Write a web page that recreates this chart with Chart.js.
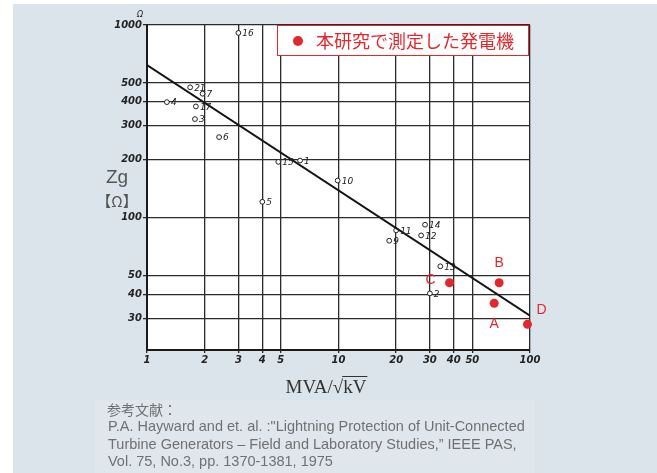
<!DOCTYPE html>
<html>
<head>
<meta charset="utf-8">
<script src="https://cdn.jsdelivr.net/npm/chart.js@4"></script>
<style>
html, body { margin: 0; padding: 0; background: #fff; }
#wrap { position: relative; width: 657px; height: 473px; overflow: hidden; }
#panel { position: absolute; left: 13px; top: 4px; right: 0; bottom: 0; background: #dbe4eb; }
canvas { position: absolute; left: 0; top: 0; }
</style>
</head>
<body>
<div id="wrap"><div id="panel"></div><canvas id="chart" width="657" height="473"></canvas></div>
<script>
// Hayward の測定点 (番号付き白丸)
var pointNames = ['16', '21', '7', '4', '17', '3', '6', '15', '1', '10', '5', '11', '9', '14', '12', '13', '2'];
var pointMva = [3, 1.68, 1.95, 1.27, 1.8, 1.78, 2.38, 4.85, 6.3, 9.9, 4.0, 20, 18.4, 28.3, 27, 34, 30];
var pointZg = [910, 475, 440, 398, 378, 325, 262, 195, 198, 156, 121, 86, 76, 92, 81, 56, 40.5];

// 本研究で測定した発電機
var ourNames = ['A', 'B', 'C', 'D'];
var ourMva = [65, 69, 38, 97];
var ourZg = [36, 46, 46, 28];

// 近似直線
var fitMva = [1, 100];
var fitZg = [620, 31];

var xTicks = [1, 2, 3, 4, 5, 10, 20, 30, 40, 50, 100];
var yTicks = [30, 40, 50, 100, 200, 300, 400, 500, 1000];

var RED = '#e3282d';
var tickFont = { family: 'DejaVu Sans', size: 10, style: 'italic', weight: 'bold' };

function toXY(xs, ys) {
    return xs.map(function (x, i) { return { x: x, y: ys[i] }; });
}

var decor = {
    id: 'decor',
    beforeDraw: function (chart) {
        var c = chart.ctx, a = chart.chartArea;
        c.save();
        c.fillStyle = 'rgba(255,255,255,0.12)';
        c.fillRect(95, 400, 440, 73);
        c.fillStyle = '#fff';
        c.fillRect(a.left, a.top, a.right - a.left, a.bottom - a.top);
        c.restore();
    },
    afterDatasetsDraw: function (chart) {
        var c = chart.ctx;
        c.save();
        // 白丸の番号
        var m0 = chart.getDatasetMeta(1);
        c.fillStyle = '#222';
        c.font = 'italic 9px "DejaVu Sans"';
        c.textBaseline = 'middle';
        c.textAlign = 'left';
        m0.data.forEach(function (el, i) {
            c.fillText(pointNames[i], el.x + 4, el.y + 1);
        });
        // A-D
        var m1 = chart.getDatasetMeta(2);
        c.fillStyle = RED;
        c.font = '14px "Liberation Sans"';
        c.textAlign = 'center';
        var place = { A: [0, 21], B: [0, -20], C: [-19, -3], D: [14, -14] };
        m1.data.forEach(function (el, i) {
            var p = place[ourNames[i]];
            c.fillText(ourNames[i], el.x + p[0], el.y + p[1]);
        });
        c.restore();
    },
    afterDraw: function (chart) {
        var c = chart.ctx;
        c.save();
        // 凡例
        c.fillStyle = '#fff';
        c.fillRect(277, 25, 251, 30);
        c.strokeStyle = RED;
        c.lineWidth = 1;
        c.strokeRect(277.5, 25.5, 251, 30);
        c.fillStyle = RED;
        c.beginPath();
        c.arc(298, 41, 5, 0, Math.PI * 2);
        c.fill();
        c.font = '18px "Noto Sans CJK JP"';
        c.textBaseline = 'middle';
        c.textAlign = 'left';
        c.fillText('本研究で測定した発電機', 316, 41);

        // 単位
        c.fillStyle = '#222';
        c.font = 'italic 8px "DejaVu Sans"';
        c.textAlign = 'center';
        c.fillText('Ω', 140, 15);

        // 軸タイトル
        c.fillStyle = '#555';
        c.font = '19px "Liberation Sans"';
        c.fillText('Zg', 117, 178);
        c.font = '15px "Noto Sans CJK JP"';
        c.fillText('【Ω】', 117, 201);

        c.fillStyle = '#333';
        c.font = '19px "Liberation Serif"';
        c.textAlign = 'left';
        var t1 = 'MVA/√', t2 = 'kV';
        var w1 = c.measureText(t1).width, w2 = c.measureText(t2).width;
        var x0 = 326 - (w1 + w2) / 2;
        c.fillText(t1 + t2, x0, 388);
        c.strokeStyle = '#333';
        c.lineWidth = 1;
        c.beginPath();
        c.moveTo(x0 + w1 - 1, 376.5);
        c.lineTo(x0 + w1 + w2 + 1, 376.5);
        c.stroke();

        // 参考文献
        c.fillStyle = '#707070';
        c.font = '14px "Noto Sans CJK JP"';
        c.fillText('参考文献：', 107, 410);
        c.font = '14.5px "Liberation Sans"';
        c.fillText('P.A. Hayward and et. al. :"Lightning Protection of Unit-Connected', 108, 427);
        c.fillText('Turbine Generators \u2013 Field and Laboratory Studies,\u201D IEEE PAS,', 108, 445);
        c.fillText('Vol. 75, No.3, pp. 1370-1381, 1975', 108, 462);
        c.restore();
    }
};

var data = {
    datasets: [{
        type: 'line',
        data: toXY(fitMva, fitZg),
        borderColor: '#151515',
        borderWidth: 2,
        pointRadius: 0,
        fill: false
    }, {
        type: 'scatter',
        data: toXY(pointMva, pointZg),
        pointRadius: 2.4,
        borderWidth: 1,
        borderColor: '#222',
        backgroundColor: '#fff'
    }, {
        type: 'scatter',
        data: toXY(ourMva, ourZg),
        pointRadius: 4.5,
        borderWidth: 0,
        backgroundColor: RED,
        clip: false
    }]
};

var options = {
    responsive: false,
    animation: false,
    layout: { padding: { left: 0, right: 127, top: 25, bottom: 0 } },
    scales: {
        x: {
            type: 'logarithmic',
            min: 1,
            max: 100,
            afterBuildTicks: function (scale) {
                scale.ticks = xTicks.map(function (v) { return { value: v }; });
            },
            afterFit: function (scale) { scale.height = 123; },
            ticks: {
                autoSkip: false,
                maxRotation: 0,
                padding: 1,
                color: '#222',
                font: tickFont,
                callback: function (value) { return value; }
            },
            grid: { color: '#2b2b2b', lineWidth: 1.3, tickLength: 3 },
            border: { color: '#1a1a1a', width: 2 }
        },
        y: {
            type: 'logarithmic',
            min: 20.6,
            max: 1000,
            afterBuildTicks: function (scale) {
                scale.ticks = yTicks.map(function (v) { return { value: v }; });
            },
            afterFit: function (scale) { scale.width = 147; },
            ticks: {
                autoSkip: false,
                padding: 1,
                color: '#222',
                font: tickFont,
                callback: function (value) { return value; }
            },
            grid: { color: '#2b2b2b', lineWidth: 1.3, tickLength: 4 },
            border: { color: '#1a1a1a', width: 2 }
        }
    },
    plugins: {
        legend: { display: false },
        tooltip: { enabled: false }
    }
};

var ctx = document.getElementById('chart').getContext('2d');
var chart = new Chart(ctx, {
    type: 'scatter',
    data: data,
    options: options,
    plugins: [decor]
});
</script>
</body>
</html>
